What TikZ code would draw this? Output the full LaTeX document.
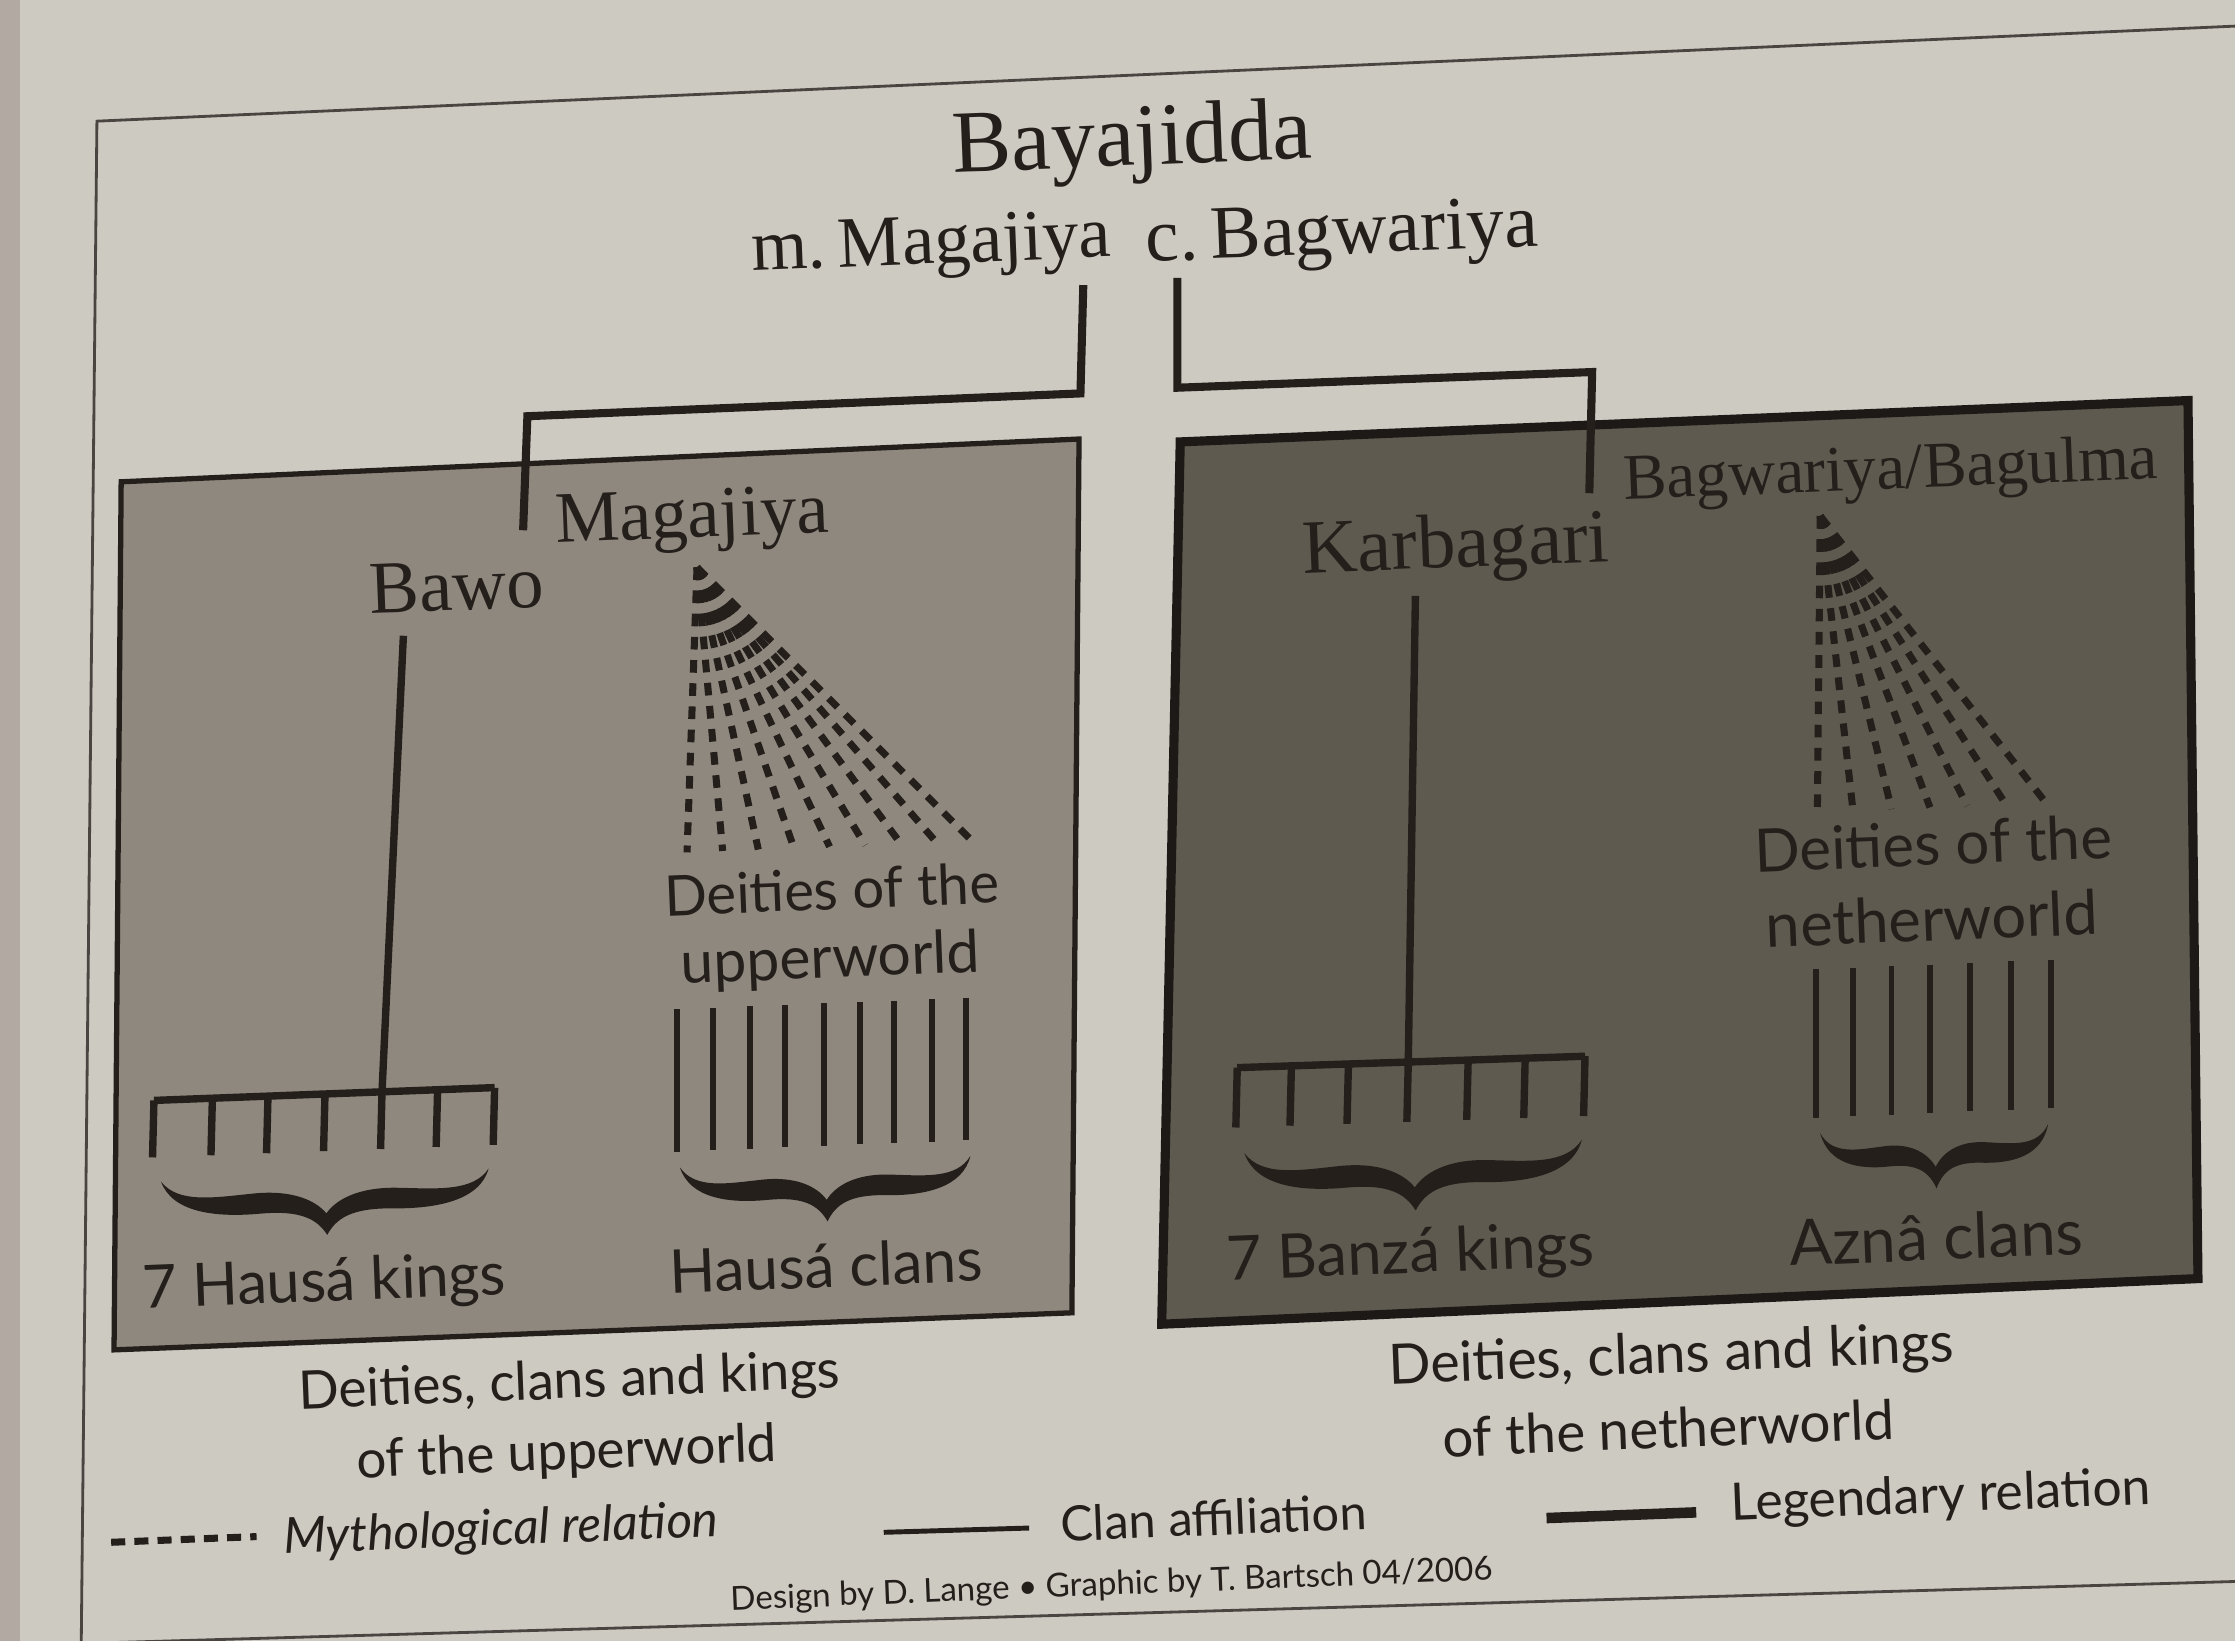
\documentclass[tikz,border=0pt]{standalone}
\usepackage{fontspec}
\usepackage{graphicx}
\setmainfont{Liberation Serif}
\newfontfamily\optima{Lato}
\newlength\dpx
\setlength\dpx{0.14254mm}
\newcommand\tw[2]{\resizebox{#1\dpx}{!}{#2}}
\definecolor{page}{HTML}{CDCAC2}
\definecolor{pageedge}{HTML}{B3A9A3}
\definecolor{boxL}{HTML}{8E887F}
\definecolor{boxR}{HTML}{5E5A4F}
\definecolor{ink}{HTML}{241F1B}
\definecolor{framec}{HTML}{4A4540}
\newcommand\calbrace[4]{%
  \begin{scope}[shift={(#1,#2)},rotate=2.3]
  \fill[ink] (0,0)
   .. controls ({0.05*#3},{0.38*#4}) and ({0.16*#3},{0.30*#4}) .. ({0.28*#3},{0.26*#4})
   .. controls ({0.40*#3},{0.22*#4}) and ({0.47*#3},{0.42*#4}) .. ({0.5*#3},{0.64*#4})
   .. controls ({0.53*#3},{0.42*#4}) and ({0.60*#3},{0.22*#4}) .. ({0.72*#3},{0.26*#4})
   .. controls ({0.84*#3},{0.30*#4}) and ({0.95*#3},{0.38*#4}) .. (#3,0)
   .. controls ({0.97*#3},{0.52*#4}) and ({0.84*#3},{0.64*#4}) .. ({0.70*#3},{0.60*#4})
   .. controls ({0.58*#3},{0.57*#4}) and ({0.53*#3},{0.72*#4}) .. ({0.5*#3},#4)
   .. controls ({0.47*#3},{0.72*#4}) and ({0.42*#3},{0.57*#4}) .. ({0.30*#3},{0.60*#4})
   .. controls ({0.16*#3},{0.64*#4}) and ({0.03*#3},{0.52*#4}) .. (0,0) -- cycle;
  \end{scope}}
\begin{document}
\begin{tikzpicture}[x=0.14254mm,y=-0.14254mm,
  lbl/.style={inner sep=0pt,anchor=base,rotate=2.3,text=ink},
  sr/.style={lbl,font=\rmfamily},
  sf/.style={lbl,font=\optima},
  legendary/.style={draw=ink,line width=2.3pt,line join=miter},
  clan/.style={draw=ink,line width=1.7pt},
  kingline/.style={draw=ink,line width=2.1pt},
  myth/.style={draw=ink,line width=2pt,dash pattern=on 3.6pt off 3pt},
  framel/.style={draw=framec,line width=0.8pt}]
\useasboundingbox (0,0) rectangle (1568,1151);
\clip (0,0) rectangle (1568,1151);
\fill[page] (0,0) rectangle (1568,1151);
\fill[pageedge] (0,0) rectangle (14,1151);
% outer frame
\draw[framel] (68,85) -- (1620,16) -- (1620,1108) -- (57,1153) -- cycle;
% boxes
\draw[draw=ink,line width=1.5pt,fill=boxL] (85,338) -- (757,308) -- (752,921) -- (80,947) -- cycle;
\draw[draw=ink!80!black,line width=2.6pt,fill=boxR] (828,310) -- (1535,281) -- (1542,897) -- (815,929) -- cycle;
% top texts
\node[sr] (bay) at (795,116) {\tw{252}{Bayajidda}};
\node[sr] (mmag) at (654,185) {\tw{252}{m.\,Magajiya}};
\node[sr] (cbag) at (942,178) {\tw{275}{c.\,Bagwariya}};
\node[sr] (magL) at (486,377) {\tw{192}{Magajiya}};
\node[sr] (bawo) at (321,428) {\tw{122}{Bawo}};
\node[sr] (karb) at (1022,398) {\tw{215}{Karbagari}};
\node[sr] (bagb) at (1327,343) {\tw{375}{Bagwariya/Bagulma}};
% tree connectors
\coordinate (mA) at (760,200);
\coordinate (mB) at (758,276);
\coordinate (mC) at (370,292);
\coordinate (mD) at (367,372);
\coordinate (cA) at (826,195);
\coordinate (cB) at (826,272);
\coordinate (cC) at (1117,261);
\coordinate (cD) at (1115,346);
\draw[legendary] (mA) -- (mB) -- (mC) -- (mD);
\draw[legendary] (cA) -- (cB) -- (cC) -- (cD);
% left: kings comb
\coordinate (bawoTop) at (283,446);
\coordinate (bawoBot) at (268,766);
\draw[kingline] (bawoTop) -- (bawoBot);
\draw[kingline] (108,772) -- (347,763);
\foreach \x in {108,149,188,228,268,307,347}
  \draw[kingline] (\x,{772-(\x-108)*0.037}) -- ++(-1,40);
\calbrace{113}{829}{230}{42}
% left: deities fan
\coordinate (apexL) at (489,398);
\foreach \x in {482,507,532,557,582,607,632,657,682}
  \draw[myth] (apexL) -- (\x,{598-(\x-482)*0.04});
\foreach \x in {475,500,526,551,578,603,627,654,678}
  \draw[clan] (\x,{708-(\x-475)*0.04}) -- ++(0,100);
\calbrace{477}{819}{204}{42}
% right: kings comb
\coordinate (karbTop) at (993,418);
\coordinate (karbBot) at (988,745);
\draw[kingline] (karbTop) -- (karbBot);
\draw[kingline] (868,749) -- (1112,741);
\foreach \x in {868,906,946,988,1030,1070,1112}
  \draw[kingline] (\x,{749-(\x-868)*0.033}) -- ++(-1,42);
\calbrace{873}{809}{237}{45}
% right: deities fan
\coordinate (apexR) at (1277,362);
\foreach \x in {1275,1300,1327,1354,1380,1407,1435}
  \draw[myth] (apexR) -- (\x,{570-(\x-1275)*0.045});
\foreach \x in {1274,1300,1327,1354,1382,1411,1439}
  \draw[clan] (\x,{680-(\x-1274)*0.04}) -- ++(0,104);
\calbrace{1277}{795}{160}{42}
% labels inside boxes
\node[sf] (deiL1) at (584,638) {\tw{235}{Deities of the}};
\node[sf] (deiL2) at (583,686) {\tw{210}{upperworld}};
\node[sf] (kingsL) at (228,913) {\tw{255}{7 Hausá kings}};
\node[sf] (clansL) at (580,903) {\tw{220}{Hausá clans}};
\node[sf] (deiR1) at (1357,607) {\tw{251}{Deities of the}};
\node[sf] (deiR2) at (1356,660) {\tw{233}{netherworld}};
\node[sf] (kingsR) at (990,893) {\tw{258}{7 Banzá kings}};
\node[sf] (clansR) at (1359,884) {\tw{206}{Aznâ clans}};
% captions
\node[sf] (capL1) at (400,981) {\tw{380}{Deities, clans and kings}};
\node[sf] (capL2) at (398,1031) {\tw{295}{of the upperworld}};
\node[sf] (capR1) at (1173,963) {\tw{397}{Deities, clans and kings}};
\node[sf] (capR2) at (1171,1016) {\tw{317}{of the netherworld}};
% legend
\draw[ink,line width=2pt,dash pattern=on 4pt off 2.6pt] (78,1082) -- (180,1078);
\node[sf] (legM) at (352,1084) {\tw{305}{\itshape Mythological relation}};
\draw[ink,line width=1.4pt] (620,1075) -- (722,1072);
\node[sf] (legC) at (852,1077) {\tw{215}{Clan affiliation}};
\draw[ink,line width=3pt] (1085,1065) -- (1190,1061);
\node[sf] (legL) at (1362,1061) {\tw{295}{Legendary relation}};
\node[sf] (credit) at (780,1119) {\tw{535}{Design by D. Lange • Graphic by T. Bartsch 04/2006}};
\end{tikzpicture}
\end{document}
